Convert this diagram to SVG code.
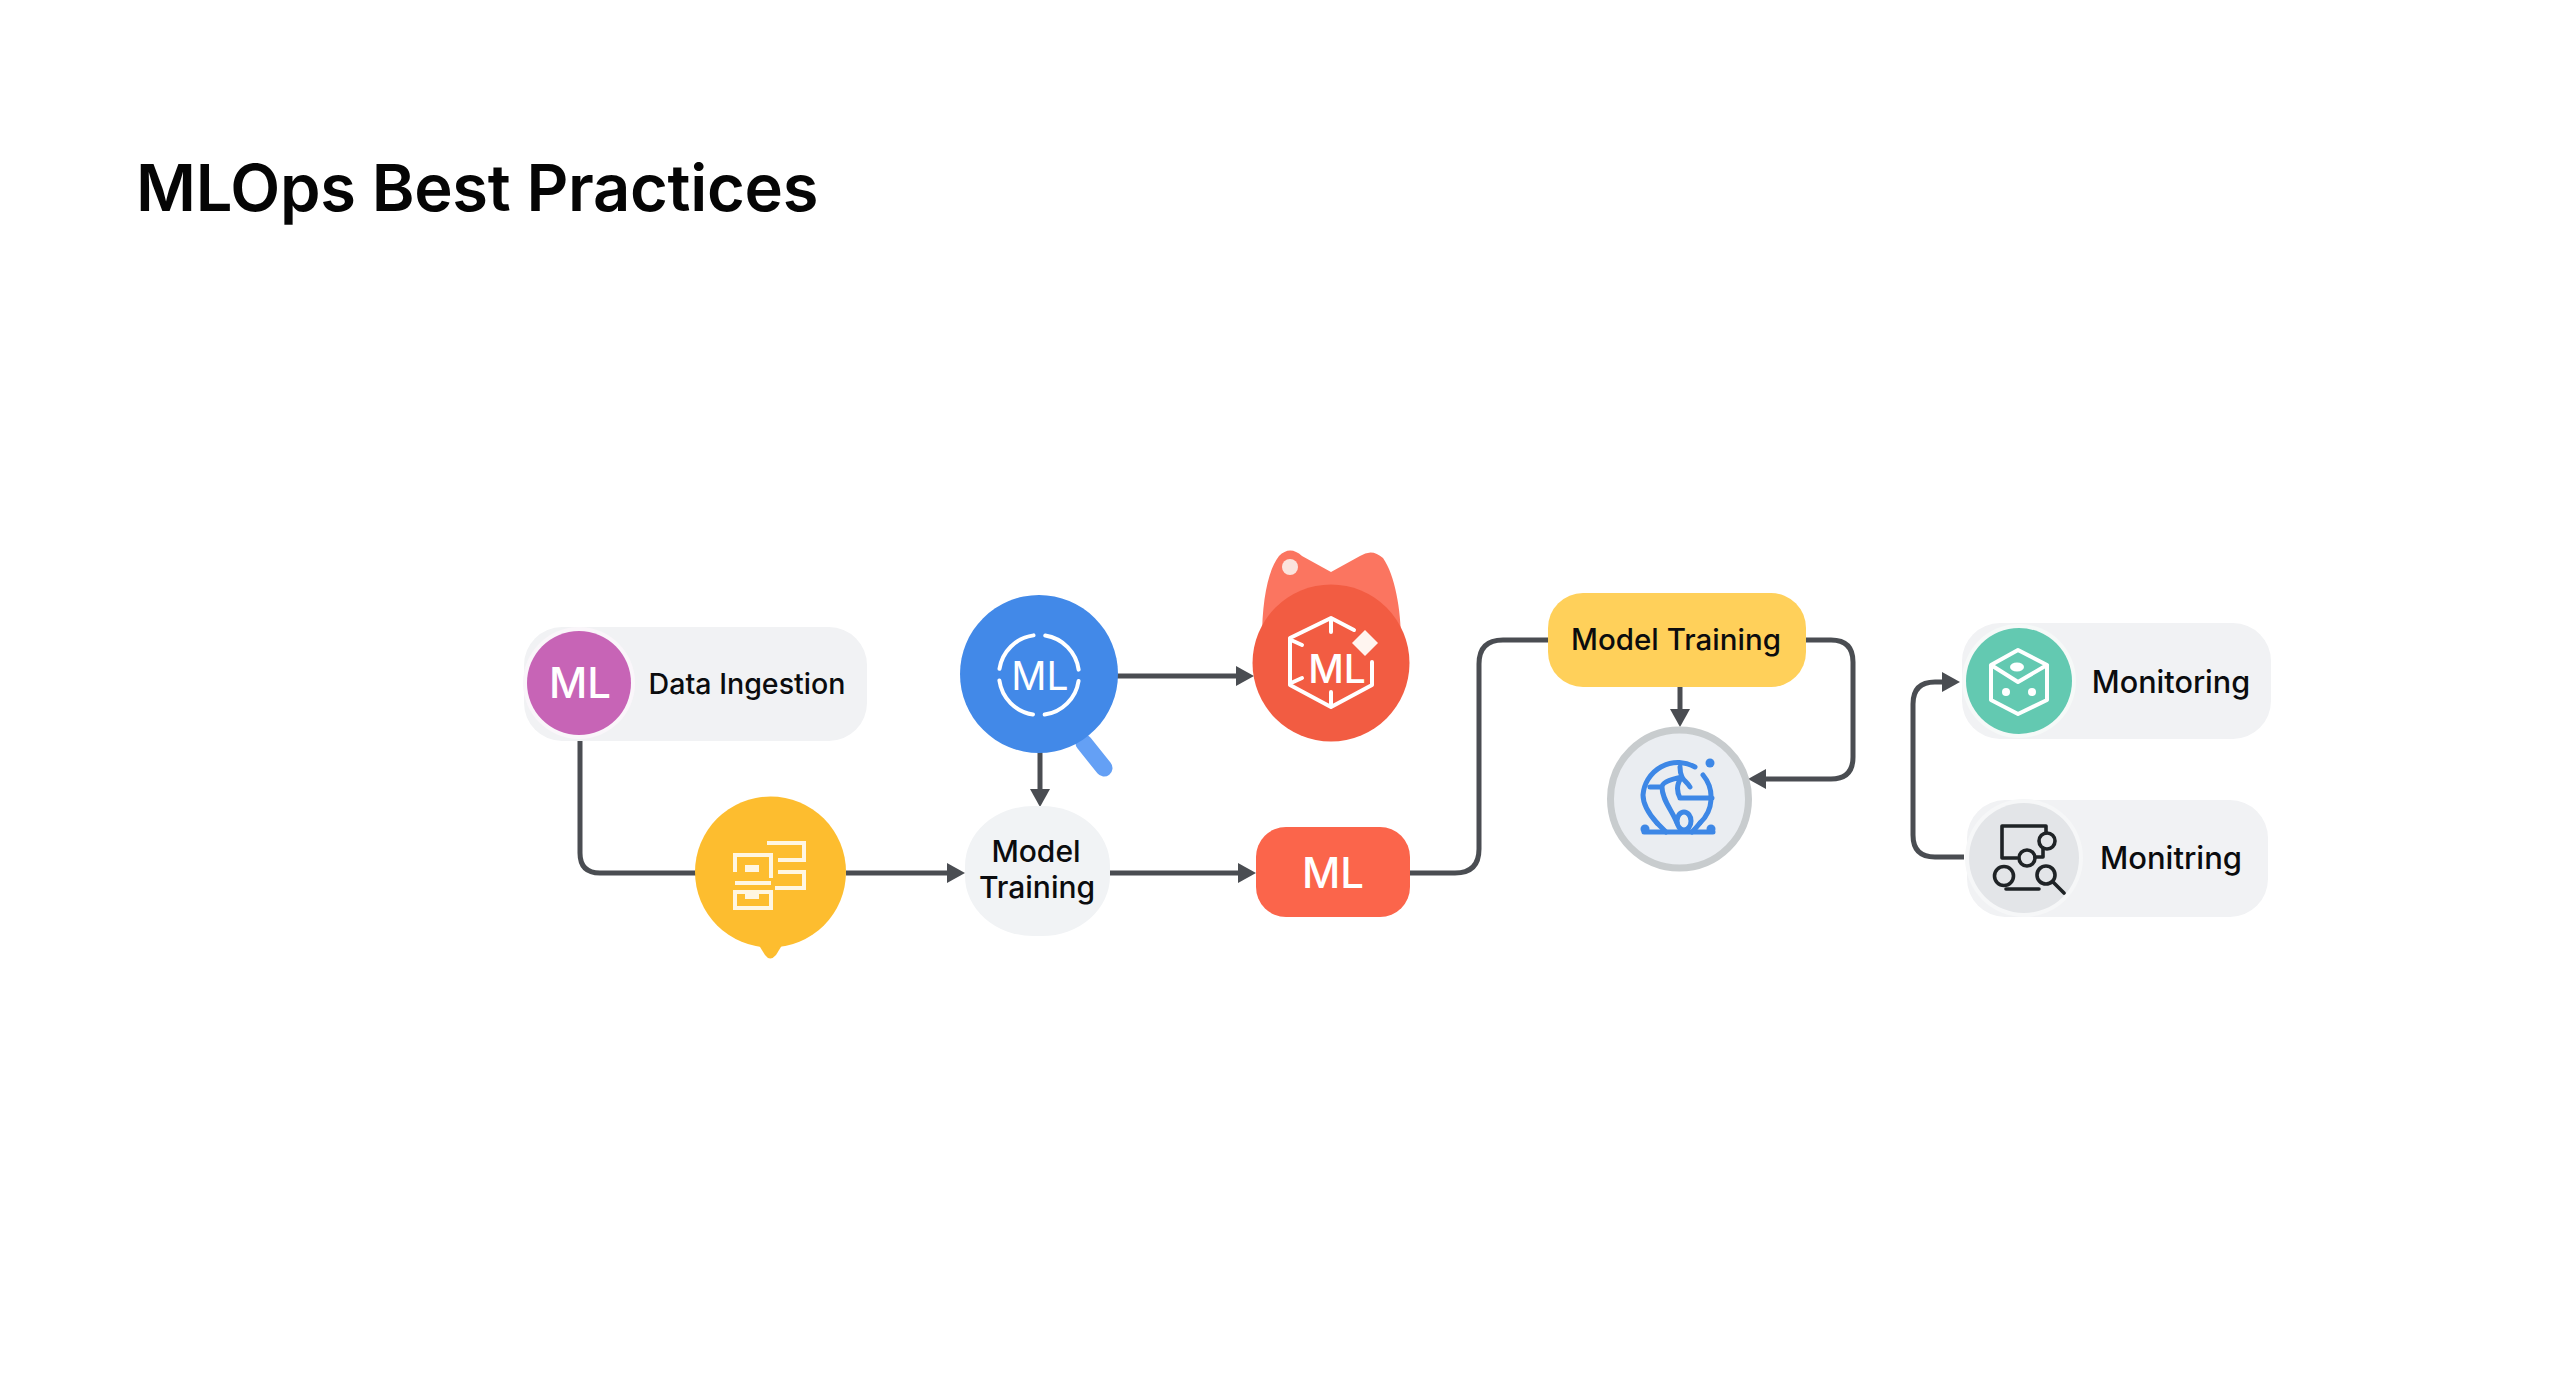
<svg xmlns="http://www.w3.org/2000/svg" width="2560" height="1396" viewBox="0 0 2560 1396">
<style>
text{font-family:Inter,"Liberation Sans",sans-serif;fill:#0b0c0e;font-weight:500;text-anchor:middle}
.title{font-size:65px;font-weight:600;text-anchor:start;fill:#050505;letter-spacing:-.3px}
.lbl{font-size:30px}
.ml{font-size:42px;fill:#fff}
.pill{fill:#f1f2f4}
.conn{fill:none;stroke:#4a4d52;stroke-width:5}
.w{fill:none;stroke:#fff;stroke-width:4;stroke-linecap:round;stroke-linejoin:round}
.wc{fill:none;stroke:#fff6e2;stroke-width:4}
.d{fill:none;stroke:#1f2326;stroke-width:3.6;stroke-linecap:round;stroke-linejoin:round}
.b{fill:none;stroke:#3d87e6;stroke-width:5;stroke-linecap:round;stroke-linejoin:round}
</style>
<defs>
<marker id="arrow" viewBox="0 0 18 20" markerUnits="userSpaceOnUse" markerWidth="18" markerHeight="20" refX="10" refY="10" orient="auto"><path d="M0 0L18 10L0 20Z" fill="#4a4d52"/></marker>
</defs>
<rect width="2560" height="1396" fill="#fff"/>
<text class="title" x="136" y="211">MLOps Best Practices</text>
<g id="connectors">
<path class="conn" d="M580 741V853Q580 873 600 873H696"/>
<path class="conn" d="M846 873H957" marker-end="url(#arrow)"/>
<path class="conn" d="M1040 752V799" marker-end="url(#arrow)"/>
<path class="conn" d="M1117 676H1246" marker-end="url(#arrow)"/>
<path class="conn" d="M1110 873H1248" marker-end="url(#arrow)"/>
<path class="conn" d="M1410 873H1455Q1479 873 1479 849V664Q1479 640 1503 640H1548"/>
<path class="conn" d="M1680 687V719" marker-end="url(#arrow)"/>
<path class="conn" d="M1806 640H1831Q1853 640 1853 662V757Q1853 779 1831 779H1756" marker-end="url(#arrow)"/>
<path class="conn" d="M1964 857H1935Q1913 857 1913 835V704Q1913 682 1935 682H1952" marker-end="url(#arrow)"/>
</g>
<g id="node-data-ingestion">
<rect class="pill" x="524" y="627" width="343" height="114" rx="38"/>
<circle cx="579" cy="683" r="56" fill="#faf6fa"/>
<circle cx="579" cy="683" r="52" fill="#c764b6"/>
<text class="ml" x="580" y="698">ML</text>
<text class="lbl" x="747" y="694" style="font-size:28.600px">Data Ingestion</text>
</g>
<g id="node-data-store">
<path d="M757 942L765 955Q770 962 776 955L784 942Z" fill="#fdbd2f"/>
<circle cx="770.500" cy="872" r="75.500" fill="#fdbd2f"/>
<path class="wc" d="M767 843H804V860H778M778 872H804V888H775M735 872V855H771V878M735 883H771M735 892H771V908H735Z"/>
<rect x="745" y="865" width="14" height="7" fill="#fff6e2"/>
<rect x="745" y="893" width="14" height="6" fill="#fff6e2"/>
</g>
<g id="node-model-training-a">
<rect x="965" y="806" width="145" height="130" rx="68" ry="60" fill="#f1f3f5"/>
<text class="lbl" x="1036" y="862">Model</text>
<text class="lbl" x="1037" y="898">Training</text>
</g>
<g id="node-ml-search">
<path d="M1084 743L1104 768" stroke="#64a0f5" stroke-width="17" stroke-linecap="round" fill="none"/>
<circle cx="1039" cy="674" r="79" fill="#4289e8"/>
<circle cx="1039" cy="675" r="40" fill="none" stroke="#fff" stroke-width="4" stroke-dasharray="51 11.830" stroke-dashoffset="-6" stroke-linecap="round"/>
<text x="1040" y="690" style="font-size:39px;font-weight:400;fill:#fff">ML</text>
</g>
<g id="node-ml-package">
<path d="M1262 640C1262 600 1268 570 1279 556Q1290 545 1302 556L1331 572L1360 556Q1372 548 1383 558C1395 575 1401 610 1401 640Z" fill="#fb7560"/>
<circle cx="1290" cy="567" r="8" fill="#fbe4de"/>
<circle cx="1331" cy="663" r="78.500" fill="#f25c42"/>
<path class="w" d="M1354 630L1331 618L1290 638V685L1331 707L1372 685V662M1331 620V632M1331 692V705M1291 640L1302 645M1291 683L1302 678"/>
<path d="M1365 630L1378 643L1365 656L1352 643Z" fill="#fff5f0"/>
<text class="ml" x="1337" y="683" style="font-size:39px">ML</text>
</g>
<g id="node-ml-box">
<rect x="1256" y="827" width="154" height="90" rx="30" fill="#fb654b"/>
<text class="ml" x="1333" y="888">ML</text>
</g>
<g id="node-model-training-b">
<rect x="1548" y="593" width="258" height="94" rx="35" fill="#ffd05a"/>
<text class="lbl" x="1676" y="650" style="font-size:29.500px">Model Training</text>
</g>
<g id="node-globe">
<circle cx="1679.500" cy="799" r="69" fill="#eaedf1" stroke="#c8ccce" stroke-width="7"/>
<path class="b" d="M1657 823C1648 813 1643 804 1643 795A35 35 0 0 1 1695 767M1703 775A35 35 0 0 1 1700 823M1644 832H1713M1680 798H1712M1680 767C1680 772 1681 775 1682 777C1684 781 1688 783 1690 787M1682 777C1672 779 1662 782 1662 787C1662 800 1672 810 1677 823M1650 787H1662M1680 798C1676 790 1677 783 1682 777"/>
<ellipse class="b" cx="1684" cy="821" rx="7" ry="9"/>
<path class="b" d="M1657 823Q1662 828 1666 832M1700 823Q1696 828 1692 832"/>
<circle cx="1710" cy="763" r="4.500" fill="#3d87e6"/>
<circle cx="1645" cy="829" r="4.500" fill="#3d87e6"/>
<circle cx="1711" cy="829" r="4.500" fill="#3d87e6"/>
</g>
<g id="node-monitoring">
<rect class="pill" x="1962" y="623" width="309" height="116" rx="38"/>
<circle cx="2019" cy="681" r="57" fill="#f6f9f8"/>
<circle cx="2019" cy="681" r="53" fill="#63c9b1"/>
<path class="w" d="M2018 650L2047 665V700L2018 714L1991 700V665ZM1991 665L2018 682L2047 665"/>
<circle cx="2006" cy="692" r="4" fill="#fff"/>
<circle cx="2032" cy="692" r="4" fill="#fff"/>
<ellipse cx="2017" cy="667" rx="7" ry="4.500" fill="#fff"/>
<text class="lbl" x="2171" y="693" style="font-size:30.600px">Monitoring</text>
</g>
<g id="node-monitring">
<rect class="pill" x="1967" y="800" width="301" height="117" rx="38"/>
<circle cx="2024" cy="858" r="59" fill="#f6f7f8"/>
<circle cx="2024" cy="858" r="55" fill="#e3e5e8"/>
<path class="d" d="M2017 858H2002V826H2046V833M2043 848V857H2035M2053 882L2064 893M2006 889H2039"/>
<circle class="d" cx="2047" cy="841" r="8"/>
<circle class="d" cx="2027" cy="858" r="8"/>
<circle class="d" cx="2004" cy="876" r="9.500"/>
<circle class="d" cx="2046" cy="875" r="9"/>
<text class="lbl" x="2171" y="869" style="font-size:31px">Monitring</text>
</g>
</svg>
